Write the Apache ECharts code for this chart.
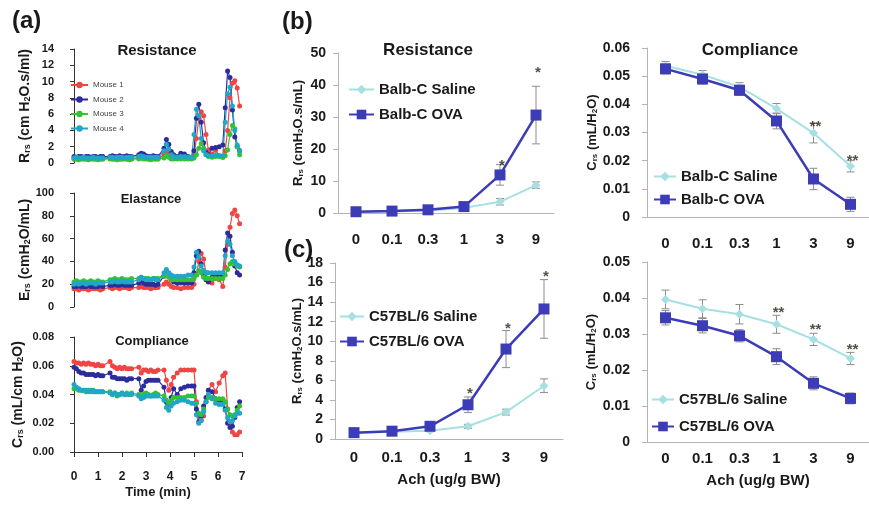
<!DOCTYPE html>
<html>
<head>
<meta charset="utf-8">
<script src="https://cdn.jsdelivr.net/npm/echarts@6/dist/echarts.min.js"></script>
<style>
  html, body { margin: 0; padding: 0; background: #fff; }
  #chart { width: 869px; height: 506px; }
</style>
</head>
<body>
<div id="chart"></div>
<script>
// ---- panel (a): time course for 4 mice ----
const timeMin = [0, 0.1, 0.2, 0.3, 0.4, 0.5, 0.6, 0.7, 0.8, 0.9, 1.0, 1.1, 1.2,
  1.5, 1.6, 1.7, 1.8, 1.9, 2.0, 2.1, 2.2, 2.3, 2.4,
  2.7, 2.8, 2.9, 3.0, 3.1, 3.2, 3.3, 3.4, 3.5,
  3.75, 3.85, 3.95, 4.05, 4.15, 4.3, 4.45, 4.6, 4.75, 4.9, 5.0,
  5.1, 5.2, 5.3, 5.4, 5.5, 5.6, 5.75, 5.9, 6.05, 6.2,
  6.3, 6.4, 6.5, 6.6, 6.7, 6.8, 6.9];
const mouseNames = ['Mouse 1', 'Mouse 2', 'Mouse 3', 'Mouse 4'];
const mouseColors = ['#f04545', '#2c2c9c', '#33c233', '#20a6c6'];

const rsMouse1 = [0.5, 0.5, 0.5, 0.6, 0.5, 0.5, 0.5, 0.6, 0.5, 0.5, 0.5, 0.5, 0.5,
  0.6, 0.5, 0.5, 0.6, 0.5, 0.5, 0.6, 0.5, 0.5, 0.5,
  0.6, 0.8, 0.7, 0.6, 0.5, 0.5, 0.6, 0.5, 0.5,
  1.0, 1.4, 1.3, 0.9, 0.7, 0.6, 0.6, 0.7, 0.6, 0.6, 0.8,
  3.0, 5.5, 6.3, 5.8, 3.5, 1.6, 1.1, 1.6, 0.9, 0.7,
  1.5, 4.0, 8.0, 9.8, 10.1, 9.2, 7.0];
const rsMouse2 = [0.8, 0.7, 0.8, 0.8, 0.7, 0.8, 0.8, 0.7, 0.8, 0.8, 0.7, 0.8, 0.8,
  0.8, 0.9, 0.8, 0.8, 0.9, 0.8, 0.8, 0.9, 0.8, 0.8,
  1.0, 1.2, 1.1, 0.9, 0.8, 0.8, 0.9, 0.8, 0.8,
  1.8, 2.9, 2.3, 1.4, 1.0, 0.8, 1.2, 1.1, 0.8, 0.7, 1.5,
  5.5, 7.2, 5.0, 2.5, 1.3, 1.0, 1.8, 1.9, 2.0, 2.2,
  6.8, 11.3, 10.5, 6.5, 3.2, 2.0, 1.5];
const rsMouse3 = [0.5, 0.5, 0.4, 0.5, 0.5, 0.5, 0.4, 0.5, 0.5, 0.5, 0.4, 0.5, 0.5,
  0.5, 0.5, 0.5, 0.4, 0.5, 0.5, 0.5, 0.5, 0.4, 0.5,
  0.5, 0.6, 0.5, 0.5, 0.5, 0.4, 0.5, 0.5, 0.5,
  0.6, 0.9, 0.7, 0.5, 0.5, 0.5, 0.5, 0.5, 0.5, 0.5, 0.6,
  1.0, 1.8, 2.4, 1.8, 1.0, 0.8, 0.7, 0.8, 0.8, 0.7,
  0.9, 1.6, 3.5, 4.6, 4.2, 2.0, 1.0];
const rsMouse4 = [0.6, 0.7, 0.6, 0.6, 0.7, 0.6, 0.6, 0.6, 0.7, 0.6, 0.6, 0.6, 0.6,
  0.7, 0.7, 0.6, 0.7, 0.7, 0.7, 0.6, 0.7, 0.7, 0.7,
  0.8, 0.9, 0.8, 0.7, 0.7, 0.7, 0.7, 0.7, 0.7,
  1.5, 2.3, 1.7, 1.0, 0.8, 0.7, 0.8, 0.8, 0.7, 0.7, 3.5,
  6.6, 5.8, 3.0, 1.5, 1.0, 0.9, 0.9, 1.0, 0.9, 0.9,
  5.0, 8.5, 9.3, 7.0, 4.0, 2.2, 1.5];

const esMouse1 = [16, 16, 15, 16, 16, 16, 15, 16, 16, 16, 16, 15, 16,
  17, 16, 17, 17, 16, 17, 17, 17, 16, 17,
  17, 18, 17, 17, 17, 16, 17, 17, 17,
  20, 22, 20, 18, 17, 17, 16, 17, 17, 17, 20,
  28, 40, 47, 42, 30, 24, 21, 25, 24, 18,
  35, 55, 70, 82, 85, 80, 73];
const esMouse2 = [18, 18, 19, 18, 18, 18, 19, 18, 18, 18, 18, 19, 18,
  19, 19, 20, 19, 19, 20, 19, 19, 19, 19,
  21, 23, 21, 20, 20, 20, 20, 19, 20,
  27, 31, 28, 24, 22, 21, 21, 21, 21, 21, 30,
  45, 49, 38, 28, 24, 22, 26, 27, 28, 28,
  50, 65, 62, 48, 36, 30, 28];
const esMouse3 = [22, 23, 22, 22, 23, 22, 22, 23, 22, 22, 23, 22, 22,
  24, 24, 25, 24, 24, 25, 24, 24, 24, 25,
  25, 26, 25, 25, 25, 24, 25, 25, 25,
  27, 28, 26, 24, 24, 24, 24, 24, 24, 24, 25,
  28, 32, 30, 26, 25, 25, 25, 25, 25, 25,
  28, 33, 38, 40, 38, 36, 35];
const esMouse4 = [20, 21, 20, 21, 21, 20, 21, 21, 21, 20, 21, 21, 21,
  22, 22, 23, 22, 22, 23, 22, 22, 22, 22,
  24, 26, 25, 24, 24, 24, 25, 24, 24,
  30, 33, 30, 28, 27, 27, 27, 27, 28, 28, 35,
  48, 44, 36, 32, 30, 30, 30, 30, 30, 30,
  45, 58, 55, 45, 40, 37, 36];

const csMouse1 = [0.063, 0.062, 0.062, 0.061, 0.062, 0.061, 0.062, 0.061, 0.061, 0.060, 0.061, 0.060, 0.060,
  0.063, 0.060, 0.059, 0.058, 0.059, 0.058, 0.059, 0.058, 0.058, 0.058,
  0.059, 0.055, 0.057, 0.057, 0.056, 0.057, 0.056, 0.056, 0.057,
  0.057, 0.050, 0.043, 0.047, 0.052, 0.055, 0.057, 0.057, 0.057, 0.057, 0.057,
  0.035, 0.025, 0.022, 0.025, 0.035, 0.043, 0.047, 0.042, 0.048, 0.053,
  0.055, 0.030, 0.020, 0.014, 0.012, 0.012, 0.014];
const csMouse2 = [0.059, 0.058, 0.056, 0.055, 0.055, 0.054, 0.054, 0.054, 0.054, 0.053, 0.054, 0.053, 0.053,
  0.055, 0.052, 0.052, 0.051, 0.051, 0.051, 0.051, 0.050, 0.051, 0.051,
  0.051, 0.043, 0.046, 0.049, 0.050, 0.050, 0.050, 0.050, 0.050,
  0.045, 0.035, 0.033, 0.038, 0.044, 0.040, 0.044, 0.045, 0.046, 0.046, 0.046,
  0.030, 0.021, 0.025, 0.032, 0.038, 0.043, 0.042, 0.037, 0.036, 0.036,
  0.030, 0.020, 0.017, 0.018, 0.024, 0.031, 0.035];
const csMouse3 = [0.044, 0.044, 0.043, 0.043, 0.043, 0.042, 0.043, 0.042, 0.043, 0.042, 0.042, 0.042, 0.042,
  0.042, 0.040, 0.041, 0.039, 0.040, 0.041, 0.040, 0.041, 0.040, 0.041,
  0.040, 0.039, 0.040, 0.041, 0.040, 0.039, 0.040, 0.041, 0.040,
  0.039, 0.036, 0.034, 0.036, 0.038, 0.038, 0.038, 0.038, 0.039, 0.039, 0.039,
  0.034, 0.027, 0.026, 0.030, 0.035, 0.038, 0.038, 0.037, 0.037, 0.037,
  0.035, 0.030, 0.026, 0.025, 0.026, 0.029, 0.032];
const csMouse4 = [0.047, 0.045, 0.044, 0.043, 0.043, 0.043, 0.042, 0.043, 0.042, 0.042, 0.042, 0.042, 0.042,
  0.041, 0.040, 0.041, 0.040, 0.040, 0.041, 0.040, 0.040, 0.040, 0.040,
  0.039, 0.037, 0.038, 0.039, 0.039, 0.039, 0.039, 0.039, 0.039,
  0.036, 0.031, 0.029, 0.032, 0.034, 0.035, 0.036, 0.036, 0.035, 0.034, 0.034,
  0.026, 0.020, 0.022, 0.028, 0.035, 0.040, 0.037, 0.034, 0.033, 0.033,
  0.029, 0.024, 0.021, 0.022, 0.025, 0.027, 0.027];

// ---- panels (b), (c): dose response, mean +/- error ----
const achDoses = ['0', '0.1', '0.3', '1', '3', '9'];

const balbRsSaline = [0.4, 0.5, 0.8, 1.6, 3.5, 8.7];
const balbRsSalineErr = [0.2, 0.2, 0.3, 0.4, 1.0, 1.0];
const balbRsOva = [0.4, 0.6, 1.0, 2.0, 11.9, 30.6];
const balbRsOvaErr = [0.2, 0.2, 0.3, 0.5, 3.2, 9.0];
const balbRsStars = [[4, 15.9, '*'], [5, 45, '*']];

const balbCsSaline = [0.0537, 0.0505, 0.0462, 0.0385, 0.0298, 0.0180];
const balbCsSalineErr = [0.0015, 0.0015, 0.0015, 0.0018, 0.0035, 0.0020];
const balbCsOva = [0.0526, 0.0490, 0.0450, 0.0341, 0.0135, 0.0045];
const balbCsOvaErr = [0.0018, 0.0018, 0.0018, 0.0028, 0.0038, 0.0025];
const balbCsStars = [[4, 0.0335, '**'], [5, 0.0215, '**']];

const c57RsSaline = [0.65, 0.75, 0.85, 1.3, 2.75, 5.45];
const c57RsSalineErr = [0.1, 0.1, 0.1, 0.2, 0.3, 0.7];
const c57RsOva = [0.65, 0.8, 1.3, 3.5, 9.2, 13.3];
const c57RsOvaErr = [0.1, 0.1, 0.2, 0.8, 1.9, 3.0];
const c57RsStars = [[3, 5.0, '*'], [4, 11.7, '*'], [5, 17.0, '*']];

const c57CsSaline = [0.0396, 0.0370, 0.0355, 0.0327, 0.0285, 0.0232];
const c57CsSalineErr = [0.0026, 0.0025, 0.0027, 0.0025, 0.0017, 0.0017];
const c57CsOva = [0.0345, 0.0323, 0.0295, 0.0237, 0.0163, 0.0121];
const c57CsOvaErr = [0.0020, 0.0020, 0.0017, 0.0022, 0.0018, 0.0015];
const c57CsStars = [[3, 0.0370, '**'], [4, 0.0322, '**'], [5, 0.0267, '**']];

const FONT = 'Liberation Sans, Arial, sans-serif';
const TXT = '#1a1a1a';
const SALINE = '#a6e0e3';
const OVA = '#3c3cb6';
const AXISGRAY = '#b4b4b4';

const chart = echarts.init(document.getElementById('chart'));

// rich styles for names with subscripts
const richName = (size) => ({
  m: { fontSize: size, fontWeight: 'bold', fontFamily: FONT, color: TXT },
  s: { fontSize: Math.round(size * 0.62), fontWeight: 'bold', fontFamily: FONT, color: TXT, verticalAlign: 'bottom' },
});

function errorBarItem(params, api) {
  const i = api.value(0);
  const m = api.value(1);
  const e = api.value(2);
  const hi = api.coord([i, m + e]);
  const lo = api.coord([i, m - e]);
  const w = 4;
  const style = { stroke: '#8c8c8c', lineWidth: 1 };
  return {
    type: 'group',
    children: [
      { type: 'line', shape: { x1: hi[0], y1: hi[1], x2: lo[0], y2: lo[1] }, style },
      { type: 'line', shape: { x1: hi[0] - w, y1: hi[1], x2: hi[0] + w, y2: hi[1] }, style },
      { type: 'line', shape: { x1: lo[0] - w, y1: lo[1], x2: lo[0] + w, y2: lo[1] }, style },
    ],
  };
}

const grids = [
  { left: 74, top: 49, width: 168, height: 114 }, // (a) resistance
  { left: 74, top: 193, width: 168, height: 114 }, // (a) elastance
  { left: 74, top: 337, width: 168, height: 115 }, // (a) compliance
  { left: 338, top: 53, width: 216, height: 160 }, // (b) resistance
  { left: 647, top: 48, width: 223, height: 169 }, // (b) compliance
  { left: 335, top: 263, width: 228, height: 176 }, // (c) resistance
  { left: 647, top: 262, width: 229, height: 180 }, // (c) compliance
];

// x axes
const xAxes = [];
for (let g = 0; g < 3; g++) {
  xAxes.push({
    gridIndex: g, type: 'value', min: 0, max: 7, interval: 1,
    show: g === 2, offset: 13,
    axisLine: { lineStyle: { color: '#333', width: 1 } },
    axisTick: { length: 5, lineStyle: { color: '#333' } },
    axisLabel: { margin: 6, fontSize: 12, fontWeight: 'bold', fontFamily: FONT, color: TXT },
    splitLine: { show: false },
    name: g === 2 ? 'Time (min)' : '', nameLocation: 'middle', nameGap: 21,
    nameTextStyle: { fontSize: 13, fontWeight: 'bold', fontFamily: FONT, color: TXT },
  });
}
const catMargin = [19, 19, 11, 9];
[3, 4, 5, 6].forEach((g, k) => {
  xAxes.push({
    gridIndex: g, type: 'category', data: achDoses,
    axisLine: { lineStyle: { color: AXISGRAY } },
    axisTick: { inside: true, length: 4, lineStyle: { color: AXISGRAY } },
    axisLabel: { margin: catMargin[k], fontSize: 15, fontWeight: 'bold', fontFamily: FONT, color: TXT },
    name: g >= 5 ? 'Ach (ug/g BW)' : '', nameLocation: 'middle', nameGap: g === 5 ? 33 : 31,
    nameTextStyle: { fontSize: 15, fontWeight: 'bold', fontFamily: FONT, color: TXT },
  });
});

// y axes
const aYBase = {
  type: 'value', offset: 12,
  axisLine: { show: true, lineStyle: { color: '#333' } },
  axisTick: { show: true, length: 4, lineStyle: { color: '#333' } },
  axisLabel: { margin: 8, fontSize: 11, fontWeight: 'bold', fontFamily: FONT, color: TXT },
  splitLine: { show: false },
  nameLocation: 'middle',
  nameTextStyle: { rich: richName(14) },
};
const bcYBase = {
  type: 'value', min: 0,
  axisLine: { show: true, lineStyle: { color: AXISGRAY } },
  axisTick: { show: true, length: 5, lineStyle: { color: AXISGRAY } },
  splitLine: { show: false },
  nameLocation: 'middle',
  nameTextStyle: { rich: richName(13) },
};
const yLabel = (m) => ({ margin: m, fontSize: 14, fontWeight: 'bold', fontFamily: FONT, color: TXT });
const yAxes = [
  Object.assign({}, aYBase, { gridIndex: 0, min: 0, max: 14, interval: 2, nameGap: 30,
    name: '{m|R}{s|rs}{m| (cm H}{s|2}{m|O.s/ml)}' }),
  Object.assign({}, aYBase, { gridIndex: 1, min: 0, max: 100, interval: 20, nameGap: 30,
    name: '{m|E}{s|rs}{m| (cmH}{s|2}{m|O/mL)}' }),
  Object.assign({}, aYBase, { gridIndex: 2, min: 0, max: 0.08, interval: 0.02, nameGap: 37,
    name: '{m|C}{s|rs}{m| (mL/cm H}{s|2}{m|O)}',
    axisLabel: Object.assign({}, aYBase.axisLabel, { formatter: (v) => v.toFixed(2) }) }),
  Object.assign({}, bcYBase, { gridIndex: 3, max: 50, interval: 10, nameGap: 33, axisLabel: yLabel(12),
    name: '{m|R}{s|rs}{m| (cmH}{s|2}{m|O.s/mL)}' }),
  Object.assign({}, bcYBase, { gridIndex: 4, max: 0.06, interval: 0.01, nameGap: 47, axisLabel: yLabel(17),
    name: '{m|C}{s|rs}{m| (mL/H}{s|2}{m|O)}' }),
  Object.assign({}, bcYBase, { gridIndex: 5, max: 18, interval: 2, nameGap: 31, axisLabel: yLabel(12),
    name: '{m|R}{s|rs}{m| (cmH}{s|2}{m|O.s/mL)}' }),
  Object.assign({}, bcYBase, { gridIndex: 6, max: 0.05, interval: 0.01, nameGap: 49, axisLabel: yLabel(17),
    name: '{m|C}{s|rs}{m| (mL/H}{s|2}{m|O)}' }),
];

// series
const series = [];
const timeSets = [
  [rsMouse1, rsMouse2, rsMouse3, rsMouse4],
  [esMouse1, esMouse2, esMouse3, esMouse4],
  [csMouse1, csMouse2, csMouse3, csMouse4],
];
timeSets.forEach((set, g) => {
  set.forEach((vals, k) => {
    series.push({
      name: mouseNames[k], type: 'line', xAxisIndex: g, yAxisIndex: g,
      data: timeMin.map((t, i) => [t, vals[i]]),
      symbol: 'circle', symbolSize: 5, showSymbol: true,
      lineStyle: { width: 1.2, color: mouseColors[k] },
      itemStyle: { color: mouseColors[k] },
      animation: false,
    });
  });
});

const doseSets = [
  { g: 3, names: ['Balb-C Saline', 'Balb-C OVA'], sal: balbRsSaline, salErr: balbRsSalineErr, ova: balbRsOva, ovaErr: balbRsOvaErr, stars: balbRsStars },
  { g: 4, names: ['Balb-C Saline', 'Balb-C OVA'], sal: balbCsSaline, salErr: balbCsSalineErr, ova: balbCsOva, ovaErr: balbCsOvaErr, stars: balbCsStars },
  { g: 5, names: ['C57BL/6 Saline', 'C57BL/6 OVA'], sal: c57RsSaline, salErr: c57RsSalineErr, ova: c57RsOva, ovaErr: c57RsOvaErr, stars: c57RsStars },
  { g: 6, names: ['C57BL/6 Saline', 'C57BL/6 OVA'], sal: c57CsSaline, salErr: c57CsSalineErr, ova: c57CsOva, ovaErr: c57CsOvaErr, stars: c57CsStars },
];
doseSets.forEach((d) => {
  [[d.sal, d.salErr], [d.ova, d.ovaErr]].forEach(([m, e]) => {
    series.push({
      type: 'custom', xAxisIndex: d.g, yAxisIndex: d.g, z: 1,
      renderItem: errorBarItem,
      data: m.map((v, i) => [i, v, e[i]]),
      animation: false,
    });
  });
  series.push({
    name: d.names[0], type: 'line', xAxisIndex: d.g, yAxisIndex: d.g, z: 3,
    data: d.sal, symbol: 'diamond', symbolSize: 9,
    lineStyle: { width: 2, color: SALINE }, itemStyle: { color: SALINE },
    animation: false,
  });
  series.push({
    name: d.names[1], type: 'line', xAxisIndex: d.g, yAxisIndex: d.g, z: 4,
    data: d.ova, symbol: 'rect', symbolSize: 11,
    lineStyle: { width: 2.5, color: OVA }, itemStyle: { color: OVA },
    animation: false,
  });
  series.push({
    type: 'scatter', xAxisIndex: d.g, yAxisIndex: d.g, z: 5,
    data: d.stars, symbolSize: 1, itemStyle: { color: 'rgba(0,0,0,0)' },
    label: {
      show: true, position: 'inside', offset: [2, 4],
      formatter: (p) => p.value[2],
      fontSize: 15, fontWeight: 'bold', fontFamily: FONT, color: '#2a2418',
    },
    animation: false,
  });
});

const legendText = { fontSize: 15, fontWeight: 'bold', fontFamily: FONT, color: TXT };
const legends = [
  { data: mouseNames, left: 70, top: 81, orient: 'vertical', padding: 0, itemWidth: 17, itemHeight: 8, itemGap: 6.5,
    textStyle: { fontSize: 8, fontFamily: FONT, color: '#444' } },
  { data: ['Balb-C Saline', 'Balb-C OVA'], left: 348, top: 82, orient: 'vertical', padding: 0, itemWidth: 25, itemHeight: 12, itemGap: 10, textStyle: legendText },
  { data: ['Balb-C Saline', 'Balb-C OVA'], left: 653, top: 169, orient: 'vertical', padding: 0, itemWidth: 22, itemHeight: 12, itemGap: 8, textStyle: legendText },
  { data: ['C57BL/6 Saline', 'C57BL/6 OVA'], left: 339, top: 309, orient: 'vertical', padding: 0, itemWidth: 24, itemHeight: 12, itemGap: 10, textStyle: legendText },
  { data: ['C57BL/6 Saline', 'C57BL/6 OVA'], left: 651, top: 392, orient: 'vertical', padding: 0, itemWidth: 22, itemHeight: 12, itemGap: 12, textStyle: legendText },
];

// free texts: panel letters and titles
const label = (x, y, text, size, align) => ({
  type: 'text', x, y,
  style: { text, font: 'bold ' + size + 'px ' + FONT, fill: TXT, align: align || 'center', verticalAlign: 'middle' },
});
const graphics = [
  label(12, 21, '(a)', 24, 'left'),
  label(282, 22, '(b)', 24, 'left'),
  label(284, 250, '(c)', 24, 'left'),
  label(157, 51, 'Resistance', 15),
  label(151, 199, 'Elastance', 13),
  label(152, 341, 'Compliance', 13),
  label(428, 50, 'Resistance', 17),
  label(750, 50, 'Compliance', 17),
];

chart.setOption({
  animation: false,
  grid: grids,
  xAxis: xAxes,
  yAxis: yAxes,
  legend: legends,
  graphic: graphics,
  series,
});
</script>
</body>
</html>
